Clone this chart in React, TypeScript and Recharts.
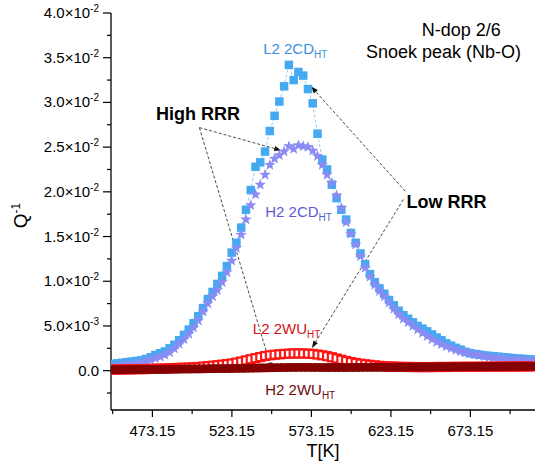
import React from "react";
import {
  ComposedChart,
  Scatter,
  XAxis,
  YAxis,
  Label,
  ReferenceLine,
  ReferenceDot,
} from "recharts";

// temperature grid (K)
const temps = [
  448, 451, 454, 457, 460, 463, 466, 469,
  472, 475, 478, 481, 484, 487, 490, 493,
  496, 499, 502, 505, 508, 511, 514, 517,
  520, 523, 526, 529, 532, 535, 538, 541,
  544, 547, 550, 553, 556, 559, 562, 565,
  568, 571, 574, 577, 580, 583, 586, 589,
  592, 595, 598, 601, 604, 607, 610, 613,
  616, 619, 622, 625, 628, 631, 634, 637,
  640, 643, 646, 649, 652, 655, 658, 661,
  664, 667, 670, 673, 676, 679, 682, 685,
  688, 691, 694, 697, 700, 703, 706, 709,
  712,
];

// L2 2CD_HT (low RRR)
const l2cd = [
  0.00075, 0.00082, 0.00088, 0.00095, 0.00102, 0.00108, 0.00115, 0.0013,
  0.0015, 0.00175, 0.00195, 0.00215, 0.0025, 0.0029, 0.0034, 0.004,
  0.0046, 0.0053, 0.0061, 0.007, 0.008, 0.0088, 0.0097, 0.0106,
  0.0117, 0.0132, 0.0143, 0.016, 0.018, 0.0202, 0.0228, 0.0233,
  0.0245, 0.0268, 0.0285, 0.0301, 0.0318, 0.0342, 0.0325, 0.0334,
  0.033, 0.0315, 0.0299, 0.0265, 0.0236, 0.0225, 0.0208, 0.0193,
  0.018, 0.0169, 0.0154, 0.0143, 0.0131, 0.0119, 0.0108, 0.0099,
  0.0092, 0.0086, 0.0079, 0.0073, 0.0067, 0.0062, 0.0058, 0.0054,
  0.005, 0.0047, 0.0044, 0.00405, 0.0037, 0.0034, 0.00305, 0.0028,
  0.00255, 0.00235, 0.0021, 0.00195, 0.00185, 0.00178, 0.0017, 0.00165,
  0.0016, 0.00156, 0.0015, 0.00145, 0.0014, 0.00135, 0.00132, 0.00128,
  0.00125,
];

// H2 2CD_HT (high RRR)
const h2cd = [
  0.0005, 0.00056, 0.00062, 0.00068, 0.00075, 0.00083, 0.00092, 0.00105,
  0.0012, 0.00138, 0.00155, 0.00175, 0.00205, 0.00245, 0.003, 0.0035,
  0.0041, 0.0048, 0.0056, 0.0066, 0.0075, 0.0083, 0.009, 0.0099,
  0.011, 0.0123, 0.0137, 0.0152, 0.0169, 0.0185, 0.0197, 0.0208,
  0.0219, 0.023, 0.0237, 0.0241, 0.0245, 0.0251, 0.0248, 0.0252,
  0.0251, 0.025, 0.0246, 0.024, 0.023, 0.0219, 0.021, 0.0196,
  0.0182, 0.0166, 0.0153, 0.0141, 0.0128, 0.0115, 0.0105, 0.0096,
  0.0089, 0.0083, 0.0076, 0.0069, 0.0063, 0.0058, 0.0054, 0.005,
  0.0046, 0.0042, 0.00385, 0.0035, 0.0032, 0.00295, 0.0027, 0.0025,
  0.00232, 0.00215, 0.00203, 0.00192, 0.00182, 0.00172, 0.0016, 0.00152,
  0.00146, 0.0014, 0.00136, 0.00132, 0.00128, 0.00124, 0.0012, 0.00117,
  0.00115,
];

// L2 2WU_HT (low RRR)
const l2wu = [
  0.00012, 0.00012, 0.00013, 0.00014, 0.00015, 0.00016, 0.00017, 0.00018,
  0.0002, 0.00021, 0.00023, 0.00025, 0.00027, 0.00029, 0.00031, 0.00033,
  0.00035, 0.00038, 0.00041, 0.00045, 0.0005, 0.00055, 0.00061, 0.00067,
  0.00073, 0.0008, 0.0009, 0.00102, 0.00115, 0.00128, 0.0014, 0.00152,
  0.00163, 0.00172, 0.00178, 0.00183, 0.00187, 0.0019, 0.00192, 0.00193,
  0.00192, 0.0019, 0.00187, 0.0018, 0.00172, 0.00162, 0.0015, 0.00136,
  0.00122, 0.00108, 0.00096, 0.00086, 0.00078, 0.00071, 0.00065, 0.00059,
  0.00054, 0.0005, 0.00047, 0.00045, 0.00043, 0.00042, 0.00041, 0.00041,
  0.0004, 0.0004, 0.0004, 0.0004, 0.00041, 0.00041, 0.00041, 0.00042,
  0.00042, 0.00042, 0.00043, 0.00043, 0.00043, 0.00044, 0.00044, 0.00044,
  0.00045, 0.00045, 0.00045, 0.00046, 0.00046, 0.00046, 0.00047, 0.00047,
  0.00047,
];

// H2 2WU_HT (high RRR)
const h2wu = [
  0.0001, 0.00011, 0.00011, 0.00012, 0.00012, 0.00013, 0.00013, 0.00014,
  0.00014, 0.00015, 0.00015, 0.00016, 0.00016, 0.00017, 0.00017, 0.00018,
  0.00018, 0.00019, 0.00019, 0.0002, 0.00021, 0.00021, 0.00022, 0.00023,
  0.00023, 0.00024, 0.00025, 0.00026, 0.00027, 0.00028, 0.00029, 0.0003,
  0.00031, 0.00032, 0.00033, 0.00034, 0.00035, 0.00036, 0.00036, 0.00037,
  0.00037, 0.00037, 0.00036, 0.00036, 0.00035, 0.00035, 0.00035, 0.00035,
  0.00035, 0.00035, 0.00036, 0.00036, 0.00036, 0.00037, 0.00037, 0.00037,
  0.00038, 0.00038, 0.00038, 0.00039, 0.00039, 0.00039, 0.0004, 0.0004,
  0.0004, 0.00041, 0.00041, 0.00041, 0.00042, 0.00042, 0.00042, 0.00043,
  0.00043, 0.00043, 0.00044, 0.00044, 0.00044, 0.00045, 0.00045, 0.00045,
  0.00046, 0.00046, 0.00046, 0.00047, 0.00047, 0.00047, 0.00048, 0.00048,
  0.00048,
];

const xTicks = [448.15, 473.15, 498.15, 523.15, 548.15, 573.15, 598.15, 623.15, 648.15, 673.15, 698.15];
const xMajorTicks = [473.15, 523.15, 573.15, 623.15, 673.15];
const xTickLabels = ["473.15", "523.15", "573.15", "623.15", "673.15"];

const yTicks = [
  -0.0025, 0, 0.0025, 0.005, 0.0075, 0.01, 0.0125, 0.015, 0.0175, 0.02,
  0.0225, 0.025, 0.0275, 0.03, 0.0325, 0.035, 0.0375, 0.04,
];
const yMajorTicks = [0, 0.005, 0.01, 0.015, 0.02, 0.025, 0.03, 0.035, 0.04];
const yTickMantissa = ["0.0", "5.0", "1.0", "1.5", "2.0", "2.5", "3.0", "3.5", "4.0"];
const yTickExponent = ["", "-3", "-2", "-2", "-2", "-2", "-2", "-2", "-2"];

const toPoints = (vals: number[]) => temps.map((t, i) => ({ T: t, q: vals[i] }));

const FONT = "'Liberation Sans', Arial, Helvetica, sans-serif";

const findIdx = (arr: number[], v: number) => arr.findIndex((a) => Math.abs(a - v) < 1e-9);

function BottomTick(props: any) {
  const { x, y, payload } = props;
  const i = findIdx(xMajorTicks, payload.value);
  return (
    <g>
      <line x1={x} x2={x} y1={y} y2={y + (i >= 0 ? 7 : 4)} stroke="#000" strokeWidth={1.2} />
      {i >= 0 && (
        <text x={x} y={y + 26} textAnchor="middle" fontSize={15} fontFamily={FONT} fill="#000">
          {xTickLabels[i]}
        </text>
      )}
    </g>
  );
}

function TopTick(props: any) {
  const { x, y, payload } = props;
  const major = findIdx(xMajorTicks, payload.value) >= 0;
  return <line x1={x} x2={x} y1={y} y2={y + (major ? 5 : 3)} stroke="#000" strokeWidth={1.2} />;
}

function LeftTick(props: any) {
  const { x, y, payload } = props;
  const i = findIdx(yMajorTicks, payload.value);
  return (
    <g>
      <line x1={x - (i >= 0 ? 8 : 4)} x2={x} y1={y} y2={y} stroke="#000" strokeWidth={1.2} />
      {i >= 0 && (
        <text x={x - 12} y={y + 5} textAnchor="end" fontSize={15} fontFamily={FONT} fill="#000">
          {yTickExponent[i] ? yTickMantissa[i] + "×10" : yTickMantissa[i]}
          {yTickExponent[i] && (
            <tspan dy={-6} fontSize={10}>
              {yTickExponent[i]}
            </tspan>
          )}
        </text>
      )}
    </g>
  );
}

function RightTick(props: any) {
  const { x, y, payload } = props;
  const major = findIdx(yMajorTicks, payload.value) >= 0;
  return <line x1={x - (major ? 5 : 3)} x2={x} y1={y} y2={y} stroke="#000" strokeWidth={1.2} />;
}

function XTitle(props: any) {
  const vb = props.viewBox || { x: 111, y: 410, width: 424, height: 62 };
  return (
    <text x={vb.x + vb.width / 2} y={vb.y + 47} textAnchor="middle" fontSize={18} fontFamily={FONT} fill="#000">
      T[K]
    </text>
  );
}

function YTitle(props: any) {
  const vb = props.viewBox || { x: 0, y: 13, width: 111, height: 397 };
  const cx = 27;
  const cy = vb.y + vb.height / 2 + 4;
  return (
    <text transform={`rotate(-90 ${cx} ${cy})`} x={cx} y={cy} textAnchor="middle" fontSize={19} fontFamily={FONT} fill="#000">
      Q
      <tspan dy={-7} fontSize={12}>
        -1
      </tspan>
    </text>
  );
}

const squareShape = (color: string, size: number) => (p: any) =>
  <rect x={p.cx - size / 2} y={p.cy - size / 2} width={size} height={size} fill={color} />;

const openSquareShape = (color: string, size: number) => (p: any) =>
  <rect x={p.cx - size / 2} y={p.cy - size / 2} width={size} height={size} fill="#fff" stroke={color} strokeWidth={2.2} />;

const starShape = (color: string, R: number, r: number) => (p: any) => {
  const pts: string[] = [];
  for (let k = 0; k < 10; k++) {
    const a = -Math.PI / 2 + (k * Math.PI) / 5;
    const rad = k % 2 === 0 ? R : r;
    pts.push(`${p.cx + rad * Math.cos(a)},${p.cy + rad * Math.sin(a)}`);
  }
  return <polygon points={pts.join(" ")} fill={color} />;
};

function Arrow(props: any) {
  const { x1, y1, x2, y2 } = props;
  const ang = Math.atan2(y2 - y1, x2 - x1);
  const len = 7;
  const w = 2.6;
  const bx = x2 - len * Math.cos(ang);
  const by = y2 - len * Math.sin(ang);
  const px = -Math.sin(ang) * w;
  const py = Math.cos(ang) * w;
  return (
    <g>
      <line x1={x1} y1={y1} x2={bx} y2={by} stroke="#333" strokeWidth={0.9} strokeDasharray="3 2" />
      <polygon points={`${x2},${y2} ${bx + px},${by + py} ${bx - px},${by - py}`} fill="#111" />
    </g>
  );
}

const seriesLabels = [
  { T: 542.8, q: 0.03539, main: "L2 2CD", sub: "HT", color: "#3D8FDA" },
  { T: 544.1, q: 0.01723, main: "H2 2CD", sub: "HT", color: "#5B5BD6" },
  { T: 536.3, q: 0.00411, main: "L2 2WU", sub: "HT", color: "#D41414" },
  { T: 544.1, q: -0.00272, main: "H2 2WU", sub: "HT", color: "#6E0A0A" },
];

const notes = [
  { T: 667.4, q: 0.03744, text: "N-dop 2/6", bold: false },
  { T: 656.2, q: 0.035, text: "Snoek peak (Nb-O)", bold: false },
  { T: 501.9, q: 0.02799, text: "High RRR", bold: true },
  { T: 658.2, q: 0.01824, text: "Low RRR", bold: true },
];

const arrows = [
  [{ x: 502.7, y: 0.02718 }, { x: 554.2, y: 0.02463 }],
  [{ x: 502.7, y: 0.02718 }, { x: 548.3, y: 0.0001 }],
  [{ x: 632.2, y: 0.02007 }, { x: 573.0, y: 0.03177 }],
  [{ x: 631.0, y: 0.01914 }, { x: 573.5, y: 0.00254 }],
];

export default function App() {
  return (
    <div style={{ position: "absolute", left: 0, top: 0, background: "#fff" }}>
      <ComposedChart width={536} height={472} margin={{ top: 13, right: 1, bottom: 0, left: 0 }}>
        <XAxis
          xAxisId={0}
          type="number"
          dataKey="T"
          domain={[447.1, 713.8]}
          allowDataOverflow
          ticks={xTicks}
          interval={0}
          tick={(p: any) => <BottomTick {...p} />}
          tickLine={false}
          tickSize={0}
          tickMargin={0}
          axisLine={{ stroke: "#000", strokeWidth: 1.3 }}
          height={62}
          label={<Label content={XTitle} />}
        />
        <XAxis
          xAxisId="top"
          orientation="top"
          type="number"
          domain={[447.1, 713.8]}
          allowDataOverflow
          ticks={xTicks}
          interval={0}
          tick={(p: any) => <TopTick {...p} />}
          tickLine={false}
          tickSize={0}
          tickMargin={0}
          axisLine={{ stroke: "#000", strokeWidth: 1.3 }}
          height={0}
        />
        <YAxis
          yAxisId={0}
          type="number"
          dataKey="q"
          domain={[-0.0044, 0.04]}
          allowDataOverflow
          ticks={yTicks}
          interval={0}
          tick={(p: any) => <LeftTick {...p} />}
          tickLine={false}
          tickSize={0}
          tickMargin={0}
          axisLine={{ stroke: "#000", strokeWidth: 1.3 }}
          width={111}
          label={<Label content={YTitle} />}
        />
        <YAxis
          yAxisId="right"
          orientation="right"
          type="number"
          domain={[-0.0044, 0.04]}
          allowDataOverflow
          ticks={yTicks}
          interval={0}
          tick={(p: any) => <RightTick {...p} />}
          tickLine={false}
          tickSize={0}
          tickMargin={0}
          axisLine={{ stroke: "#000", strokeWidth: 1.3 }}
          width={0}
        />

        <Scatter
          name="L2 2CD_HT"
          data={toPoints(l2cd)}
          isAnimationActive={false}
          line={{ stroke: "#93CBF3", strokeWidth: 1, strokeDasharray: "3 2" }}
          lineType="joint"
          shape={squareShape("#45A9F2", 8.5)}
        />
        <Scatter
          name="H2 2CD_HT"
          data={toPoints(h2cd)}
          isAnimationActive={false}
          shape={starShape("#8B8BF3", 6, 2.5)}
        />
        <Scatter
          name="L2 2WU_HT"
          data={toPoints(l2wu)}
          isAnimationActive={false}
          shape={openSquareShape("#FF1414", 8)}
        />
        <Scatter
          name="H2 2WU_HT"
          data={toPoints(h2wu)}
          isAnimationActive={false}
          shape={squareShape("#850000", 8.5)}
        />

        {arrows.map((seg, i) => (
          <ReferenceLine key={`a${i}`} segment={seg} ifOverflow="visible" shape={(p: any) => <Arrow {...p} />} />
        ))}

        {seriesLabels.map((s, i) => (
          <ReferenceDot
            key={`s${i}`}
            x={s.T}
            y={s.q}
            r={0}
            ifOverflow="visible"
            shape={(p: any) => (
              <text x={p.cx} y={p.cy} fill={s.color} fontSize={15} fontFamily={FONT}>
                {s.main}
                <tspan dy={4} fontSize={10}>
                  {s.sub}
                </tspan>
              </text>
            )}
          />
        ))}

        {notes.map((n, i) => (
          <ReferenceDot
            key={`n${i}`}
            x={n.T}
            y={n.q}
            r={0}
            ifOverflow="visible"
            shape={(p: any) => (
              <text
                x={p.cx}
                y={p.cy}
                textAnchor="middle"
                fill="#000"
                fontSize={18}
                fontWeight={n.bold ? "bold" : "normal"}
                fontFamily={FONT}
              >
                {n.text}
              </text>
            )}
          />
        ))}
      </ComposedChart>
    </div>
  );
}
